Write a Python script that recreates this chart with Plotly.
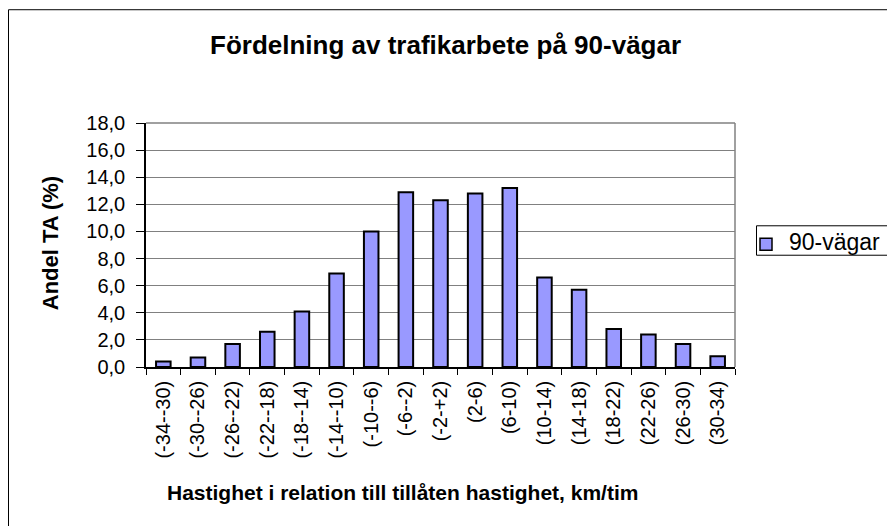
import plotly.graph_objects as go

# speed classes relative to the posted limit (km/h)
categories = ["(-34--30)", "(-30--26)", "(-26--22)", "(-22--18)", "(-18--14)", "(-14--10)",
              "(-10--6)", "(-6--2)", "(-2-+2)", "(2-6)", "(6-10)", "(10-14)", "(14-18)",
              "(18-22)", "(22-26)", "(26-30)", "(30-34)"]
share_90 = [0.4, 0.7, 1.7, 2.6, 4.1, 6.9, 10.0, 12.9, 12.3, 12.8, 13.2, 6.6, 5.7, 2.8, 2.4, 1.7, 0.8]
series_name = "90-vägar"

OFF = 8                      # page body margin
W, H = 895 - OFF, 526 - OFF
L, R, T, B = 146, 735, 122.5, 367   # plot area in page pixels
pw, ph = R - L, B - T


def px_x(x):
    return (x - L) / pw


def px_y(y):
    return (B - y) / ph


font = "Arial, Liberation Sans, sans-serif"
bar_color = "#9999FF"

fig = go.Figure(go.Bar(
    x=categories, y=share_90, name=series_name, width=0.42,
    marker=dict(color=bar_color, line=dict(color="black", width=2)),
))

fig.update_layout(
    width=W, height=H,
    margin=dict(l=L - OFF, r=(W + OFF) - R, t=T - OFF, b=(H + OFF) - B, pad=0),
    paper_bgcolor="white", plot_bgcolor="white",
    font=dict(family=font, color="black"),
    separators=", ",
    showlegend=False,
)

fig.update_xaxes(
    type="category", range=[-0.5, len(categories) - 0.5],
    tickangle=-90, tickfont=dict(size=20), ticklabelstandoff=4,
    ticks="outside", ticklen=6, tickcolor="black", tickson="boundaries",
    showline=True, linecolor="black", linewidth=1.5,
    showgrid=False,
)
fig.update_yaxes(
    range=[0, 18], dtick=2, tickformat=".1f", tickfont=dict(size=20),
    ticks="outside", ticklen=8, tickcolor="black", ticklabelstandoff=7,
    showline=True, linecolor="black", linewidth=1.5,
    showgrid=True, gridcolor="#808080", gridwidth=1,
)

# gray frame on top and right of plot area
fig.add_shape(type="line", xref="paper", yref="paper", x0=0, x1=1, y0=1, y1=1,
              line=dict(color="#808080", width=1.5))
fig.add_shape(type="line", xref="paper", yref="paper", x0=1, x1=1, y0=0, y1=1,
              line=dict(color="#808080", width=1.5))

# outer chart border (only top and left visible)
fig.add_shape(type="line", xref="paper", yref="paper", x0=px_x(8.5), x1=px_x(8.5),
              y0=px_y(9), y1=px_y(540), line=dict(color="black", width=1))
fig.add_shape(type="line", xref="paper", yref="paper", x0=px_x(8.5), x1=px_x(910),
              y0=px_y(9), y1=px_y(9), line=dict(color="black", width=1))

# legend box, drawn by hand (runs off the right edge like the original)
fig.add_shape(type="rect", xref="paper", yref="paper", x0=px_x(756.5), x1=px_x(920),
              y0=px_y(255), y1=px_y(225.5), line=dict(color="black", width=1),
              fillcolor="white")
fig.add_shape(type="rect", xref="paper", yref="paper", x0=px_x(760), x1=px_x(772),
              y0=px_y(250), y1=px_y(238), line=dict(color="black", width=1.5),
              fillcolor=bar_color)
fig.add_annotation(text=series_name, xref="paper", yref="paper",
                   x=px_x(787), y=px_y(242), showarrow=False, font=dict(size=23),
                   xanchor="left", yanchor="middle")

fig.add_annotation(text="<b>Fördelning av trafikarbete på 90-vägar</b>", xref="paper", yref="paper",
                   x=px_x(445), y=px_y(44), showarrow=False, font=dict(size=26),
                   xanchor="center", yanchor="middle")
fig.add_annotation(text="<b>Hastighet i relation till tillåten hastighet, km/tim</b>",
                   xref="paper", yref="paper", x=px_x(402), y=px_y(493), showarrow=False,
                   font=dict(size=21), xanchor="center", yanchor="middle")
fig.add_annotation(text="<b>Andel TA (%)</b>", xref="paper", yref="paper",
                   x=px_x(50), y=px_y(243), showarrow=False, textangle=-90,
                   font=dict(size=22), xanchor="center", yanchor="middle")

fig.write_html("out.html")
